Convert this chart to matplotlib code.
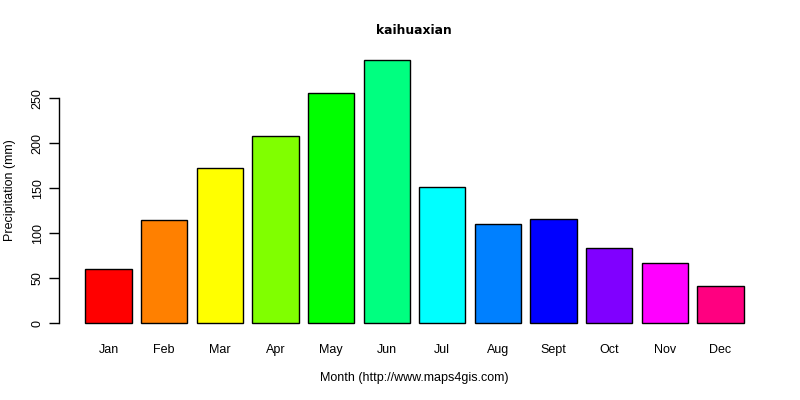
import matplotlib
matplotlib.use("Agg")
import matplotlib.pyplot as plt
import numpy as np

months = ["Jan", "Feb", "Mar", "Apr", "May", "Jun", "Jul", "Aug", "Sept", "Oct", "Nov", "Dec"]
precip = [61, 115, 173, 208, 256, 293, 152, 110, 116, 84, 67, 42]
colors = ["#FF0000", "#FF8000", "#FFFF00", "#80FF00", "#00FF00", "#00FF80",
          "#00FFFF", "#0080FF", "#0000FF", "#8000FF", "#FF00FF", "#FF0080"]
yticks = [0, 50, 100, 150, 200, 250]

fig = plt.figure(figsize=(8, 4), dpi=100)
ax = fig.add_axes([59/800, 1 - 334/400, (770 - 59)/800, (334 - 49)/400])

n = len(months)
x = 0.7 + 1.2 * np.arange(n)
ax.bar(x, precip, width=1.0, color=colors, edgecolor="black", linewidth=1.0)

xl = (0.2, 0.2 + 1.2 * n - 0.2)
ext = 0.04 * (xl[1] - xl[0])
ax.set_xlim(xl[0] - ext, xl[1] + ext)
ymax = max(precip)
ax.set_ylim(-0.04 * ymax, ymax * 1.04)

for s in ["top", "right", "bottom"]:
    ax.spines[s].set_visible(False)
ax.spines["left"].set_bounds(0, 250)
ax.spines["left"].set_linewidth(1.0)

font = "Liberation Sans"
fs = 9.0
ax.set_yticks(yticks)
ax.set_yticklabels([str(v) for v in yticks], rotation=90, va="center",
                   fontsize=fs, family=font)
ax.tick_params(axis="y", length=7, width=1.0, pad=4)
ax.set_xticks(x)
ax.set_xticklabels(months, fontsize=fs, family=font)
ax.tick_params(axis="x", length=0, pad=7.5)

fig.text(414/800, 1 - 31/400, "kaihuaxian", ha="center", va="center",
         fontsize=8.9, fontweight="bold", family="DejaVu Sans")
fig.text(414/800, 1 - 378/400, "Month (http://www.maps4gis.com)", ha="center",
         va="center", fontsize=fs, family=font)
fig.text(10/800, 1 - 190/400, "Precipitation (mm)", ha="center", va="center",
         rotation=90, fontsize=fs, family=font)

fig.savefig("out.png", dpi=100)
